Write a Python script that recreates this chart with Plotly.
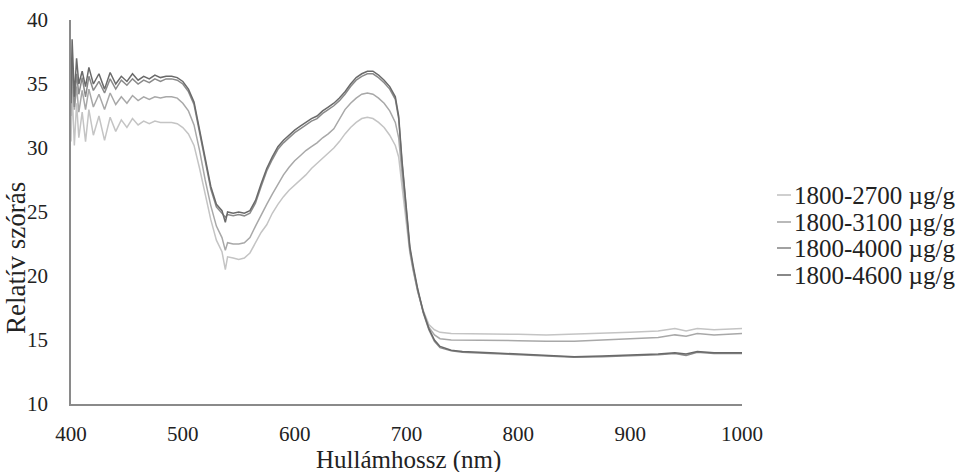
import plotly.graph_objects as go

wavelength = [400, 401, 403, 405, 407, 410, 413, 416, 420,
              425, 430, 435, 440, 445, 450, 455, 460, 465, 470, 475, 480, 485, 490, 495, 500,
              505, 510, 515, 520, 525, 530, 535, 538,
              540, 545, 550, 555, 560, 565, 570, 575, 580, 585, 590, 595, 600, 605, 610, 615,
              620, 625, 630, 635, 640, 645, 650, 655, 660, 665, 670, 675, 680, 685, 690,
              693, 696, 700, 703, 706, 710, 715, 720, 725, 730, 740, 750,
              775, 800, 825, 850, 875, 900, 925, 940, 950, 960, 975, 1000]

s2700 = [30.5, 34.5, 30.2, 33.5, 30.8, 32.8, 30.5, 33.0, 31.0,
         32.5, 30.6, 32.4, 31.3, 32.2, 31.6, 32.3, 31.8, 32.1, 31.9, 32.1, 32.0, 32.0, 32.0, 31.9, 31.6,
         31.1, 30.2, 28.4, 26.3, 24.4, 22.8, 21.9, 20.5,
         21.5, 21.4, 21.3, 21.4, 21.8, 22.6, 23.4, 24.0, 24.9, 25.6, 26.2, 26.7, 27.1, 27.5, 27.9, 28.4,
         28.8, 29.2, 29.6, 30.0, 30.5, 31.1, 31.6, 32.0, 32.3, 32.4, 32.3, 32.0, 31.6, 31.0, 30.2,
         29.3, 27.0, 24.0, 21.8, 20.4, 18.8, 17.3, 16.2, 15.8, 15.6, 15.5, 15.5,
         15.45, 15.45, 15.4, 15.45, 15.55, 15.6, 15.7, 15.9, 15.7, 15.9, 15.8, 15.9]

s3100 = [32.5, 35.5, 33.0, 34.8, 32.8, 34.5, 33.0, 34.6, 33.2,
         34.2, 33.0, 34.3, 33.4, 34.0, 33.5, 34.1, 33.7, 34.0, 33.8, 34.0, 33.9, 34.0, 34.0, 33.9, 33.5,
         32.9, 31.8, 29.8, 27.5, 25.5, 23.9, 23.0, 22.0,
         22.6, 22.5, 22.5, 22.6, 23.0, 23.9, 24.8, 25.6, 26.4, 27.2, 27.9, 28.5, 29.0, 29.4, 29.8, 30.1,
         30.4, 30.8, 31.1, 31.5, 32.2, 33.0, 33.5, 33.9, 34.2, 34.3, 34.2, 33.9, 33.5, 32.9, 32.0,
         30.8, 28.0, 24.5, 22.0, 20.5, 18.8, 17.2, 16.0, 15.4, 15.1, 15.0, 15.0,
         14.95, 14.95, 14.9, 14.9, 15.0, 15.1, 15.2, 15.4, 15.3, 15.5, 15.4, 15.5]

s4000 = [34.5, 36.5, 33.2, 35.8, 34.2, 35.5, 34.0, 35.6, 34.5,
         35.2, 34.3, 35.4, 34.6, 35.3, 34.9, 35.4, 35.0, 35.3, 35.1, 35.4, 35.2, 35.4, 35.4, 35.3, 35.0,
         34.4, 33.4, 31.3, 29.0, 26.8, 25.4, 24.9, 24.6,
         24.8, 24.7, 24.8, 24.7, 24.9, 25.7, 27.0, 28.2, 29.1, 29.9, 30.4, 30.8, 31.2, 31.5, 31.8, 32.1,
         32.3, 32.7, 33.0, 33.3, 33.7, 34.2, 34.8, 35.3, 35.6, 35.8, 35.8, 35.5, 35.1, 34.6, 33.8,
         32.3, 28.8, 24.8, 22.1, 20.6, 18.9, 17.1, 15.8, 14.9, 14.4, 14.15, 14.05,
         13.95, 13.85, 13.75, 13.65, 13.7, 13.75, 13.85, 13.95, 13.8, 14.05, 13.95, 13.95]

s4600 = [33.5, 38.5, 34.0, 37.0, 35.0, 36.0, 34.8, 36.3, 35.0,
         35.8, 34.6, 35.9, 35.0, 35.6, 35.2, 35.8, 35.3, 35.6, 35.4, 35.7, 35.5, 35.6, 35.6, 35.5, 35.2,
         34.6, 33.6, 31.5, 29.2, 27.0, 25.6, 25.1, 24.2,
         25.0, 24.9, 25.0, 24.9, 25.1, 25.9, 27.2, 28.4, 29.3, 30.1, 30.6, 31.0, 31.4, 31.7, 32.0, 32.3,
         32.5, 32.9, 33.2, 33.5, 33.9, 34.4, 35.0, 35.5, 35.8, 36.0, 36.0, 35.7, 35.3, 34.8, 34.0,
         32.5, 29.0, 25.0, 22.3, 20.8, 19.0, 17.2, 15.9, 15.0, 14.5, 14.2, 14.1,
         14.0, 13.9, 13.8, 13.7, 13.75, 13.8, 13.9, 14.0, 13.9, 14.1, 14.0, 14.0]

series_names = ["1800-2700 µg/g", "1800-3100 µg/g", "1800-4000 µg/g", "1800-4600 µg/g"]
series_values = [s2700, s3100, s4000, s4600]
colors = ["#c4c4c4", "#a8a8a8", "#8a8a8a", "#6a6a6a"]

x_ticks = [400, 500, 600, 700, 800, 900, 1000]
y_ticks = [10, 15, 20, 25, 30, 35, 40]

for v in series_values:
    assert len(v) == len(wavelength)

W, H = 968, 472
L, R, T, B = 71, 742, 20, 404  # plot area in pixels
FONT = "Liberation Serif, Times New Roman, serif"

fig = go.Figure()
for name, vals, col in zip(series_names, series_values, colors):
    fig.add_trace(go.Scatter(x=wavelength, y=vals, mode="lines", name=name,
                             line=dict(color=col, width=1.5), showlegend=False))

def px_x(p):
    return (p - L) / (R - L)

def px_y(p):
    return (B - p) / (B - T)

shapes = []
annotations = []
leg_y = [195, 222, 248, 275]
for name, col, ly in zip(series_names, colors, leg_y):
    shapes.append(dict(type="line", xref="paper", yref="paper",
                       x0=px_x(777), x1=px_x(791), y0=px_y(ly), y1=px_y(ly),
                       line=dict(color=col, width=1.6)))
    annotations.append(dict(text=name, xref="paper", yref="paper", x=px_x(792), y=px_y(ly),
                            xanchor="left", yanchor="middle", showarrow=False,
                            font=dict(family=FONT, size=25, color="#222222")))

annotations.append(dict(text="Hullámhossz (nm)", xref="paper", yref="paper",
                        x=px_x(408), y=px_y(460), xanchor="center", yanchor="middle",
                        showarrow=False, font=dict(family=FONT, size=25, color="#222222")))
annotations.append(dict(text="Relatív szórás", xref="paper", yref="paper",
                        x=px_x(16), y=px_y(258), xanchor="center", yanchor="middle",
                        textangle=-90, showarrow=False,
                        font=dict(family=FONT, size=27, color="#222222")))

fig.update_layout(
    width=W, height=H,
    margin=dict(l=L, r=W - R, t=T, b=H - B, pad=0),
    paper_bgcolor="white", plot_bgcolor="white",
    shapes=shapes, annotations=annotations,
    font=dict(family=FONT, color="#222222"),
)
fig.update_xaxes(range=[400, 1000], tickvals=x_ticks, showgrid=False, zeroline=False,
                 showline=True, linecolor="#8a8a8a", linewidth=1.5, automargin=False,
                 ticks="", ticklabelstandoff=10,
                 tickfont=dict(family=FONT, size=21, color="#222222"))
fig.update_yaxes(range=[10, 40], tickvals=y_ticks, showgrid=False, zeroline=False,
                 showline=True, linecolor="#8a8a8a", linewidth=1.5, automargin=False,
                 ticks="", ticklabelstandoff=17,
                 tickfont=dict(family=FONT, size=21, color="#222222"))

fig.write_html("out.html", config={"displayModeBar": False},
               post_script="document.body.style.margin='0px';document.body.style.overflow='hidden';")
